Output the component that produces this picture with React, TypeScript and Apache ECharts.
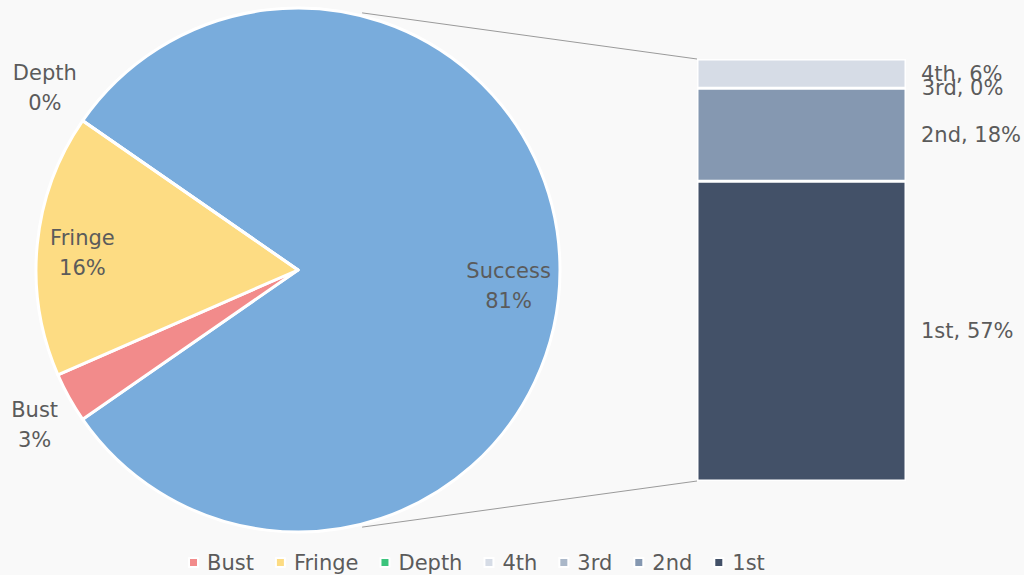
import React, { useEffect, useRef } from "react";
import * as echarts from "echarts";

// ---- data ----
const barNames = ["1st", "2nd", "3rd", "4th"];
const barValues = [57.3, 17.8, 0, 5.6];
const barColors = ["#435168", "#8598b1", "#abb8c9", "#d6dce6"];

const pieNames = ["Success", "Bust", "Fringe", "Depth"];
const otherValues = { Bust: 3.1, Fringe: 16.2, Depth: 0 };
const pieColors = ["#79acdc", "#f28b8b", "#fddc83", "#3cc47d"];

const legendOrder = ["Bust", "Fringe", "Depth", "4th", "3rd", "2nd", "1st"];

// ---- layout constants ----
const PIE_CENTER: [number, number] = [298, 270];
const PIE_R = 262;
const GRID = { left: 697, top: 59, width: 209, height: 422 };
const FONT = "DejaVu Sans";
const TEXT_COLOR = "#5b5b5b";
const FONT_SIZE = 21;

export default function App() {
  const ref = useRef<HTMLDivElement>(null);

  useEffect(() => {
    if (!ref.current) return;
    const chart = echarts.init(ref.current, undefined, { renderer: "svg" });

    const successValue = barValues.reduce((a, b) => a + b, 0);
    const pieValues = [successValue, otherValues.Bust, otherValues.Fringe, otherValues.Depth];
    const total = pieValues.reduce((a, b) => a + b, 0);
    const pct = (v: number) => Math.round((v / total) * 100);
    const startAngle = (successValue / total) * 180;

    const pieData = pieNames.map((n, i) => ({
      name: n,
      value: pieValues[i],
      itemStyle: { color: pieColors[i] },
    }));

    const labelText = (p: any) => `${p.name}\n${pct(p.value)}%`;
    const labelBase = {
      position: "inside",
      color: TEXT_COLOR,
      fontFamily: FONT,
      fontSize: FONT_SIZE,
      lineHeight: 30,
      align: "center",
      formatter: labelText,
    };

    const innerLabelSet = ["Success", "Fringe"];
    const outerLabelSet = ["Depth", "Bust"];
    const labelShiftY: Record<string, number> = { Success: 8, Fringe: 2, Depth: -2, Bust: 1 };
    const labelShiftX: Record<string, number> = { Success: -1, Fringe: -2, Depth: 2, Bust: 5 };

    const overlayPie = (radius: [number, number], shown: string[]) => ({
      type: "pie",
      center: PIE_CENTER,
      radius,
      startAngle,
      clockwise: true,
      silent: true,
      z: 5,
      legendHoverLink: false,
      emphasis: { disabled: true },
      itemStyle: { color: "rgba(0,0,0,0)", borderWidth: 0 },
      labelLine: { show: false },
      labelLayout: (p: any) => ({
        dx: labelShiftX[pieNames[p.dataIndex]] || 0,
        dy: labelShiftY[pieNames[p.dataIndex]] || 0,
      }),
      data: pieNames.map((n, i) => ({
        name: n,
        value: pieValues[i],
        itemStyle: { color: "rgba(0,0,0,0)" },
        label: { ...labelBase, show: shown.includes(n) },
      })),
    });

    const barSeries = barNames.map((n, i) => ({
      name: n,
      type: "bar",
      stack: "total",
      xAxisIndex: 0,
      yAxisIndex: 0,
      barWidth: "100%",
      itemStyle: { color: barColors[i], borderColor: "#ffffff", borderWidth: 1.5 },
      label: {
        show: true,
        position: "right",
        distance: 15,
        color: TEXT_COLOR,
        fontFamily: FONT,
        fontSize: FONT_SIZE,
        formatter: () => `${n}, ${pct(barValues[i])}%`,
      },
      data: [barValues[i]],
    }));

    chart.setOption({
      animation: false,
      backgroundColor: "#f9f9f9",
      textStyle: { fontFamily: FONT },
      color: [...pieColors, ...barColors],
      legend: {
        data: legendOrder,
        left: 183,
        top: 547,
        icon: "rect",
        itemWidth: 9,
        itemHeight: 9,
        itemGap: 21,
        textStyle: {
          color: TEXT_COLOR,
          fontSize: FONT_SIZE,
          fontFamily: FONT,
          padding: [0, 0, 0, 4],
        },
      },
      grid: { ...GRID },
      xAxis: { type: "category", data: ["Success"], show: false },
      yAxis: { type: "value", min: 0, max: successValue, show: false },
      series: [
        {
          type: "pie",
          name: "main",
          center: PIE_CENTER,
          radius: PIE_R,
          startAngle,
          clockwise: true,
          itemStyle: { borderColor: "#ffffff", borderWidth: 3 },
          label: { show: false },
          labelLine: { show: false },
          data: pieData,
        },
        overlayPie([PIE_R * 0.6, PIE_R], innerLabelSet),
        overlayPie([280, 340], outerLabelSet),
        ...barSeries,
      ],
    });

    // connector lines from pie edge to bar corners
    const topPx = chart.convertToPixel({ gridIndex: 0 }, [0, successValue]) as number[];
    const botPx = chart.convertToPixel({ gridIndex: 0 }, [0, 0]) as number[];
    const ang = (76 * Math.PI) / 180;
    const rr = PIE_R + 3;
    const px = PIE_CENTER[0] + rr * Math.cos(ang);
    const pyTop = PIE_CENTER[1] - rr * Math.sin(ang);
    const pyBot = PIE_CENTER[1] + rr * Math.sin(ang);
    chart.setOption({
      graphic: [
        {
          type: "line",
          shape: { x1: px, y1: pyTop, x2: GRID.left, y2: topPx[1] },
          style: { stroke: "#9a9a9a", lineWidth: 1 },
          silent: true,
        },
        {
          type: "line",
          shape: { x1: px, y1: pyBot, x2: GRID.left, y2: botPx[1] },
          style: { stroke: "#9a9a9a", lineWidth: 1 },
          silent: true,
        },
      ],
    });

    return () => chart.dispose();
  }, []);

  return (
    <div
      ref={ref}
      style={{ position: "absolute", left: 0, top: 0, width: 1024, height: 575 }}
    />
  );
}
